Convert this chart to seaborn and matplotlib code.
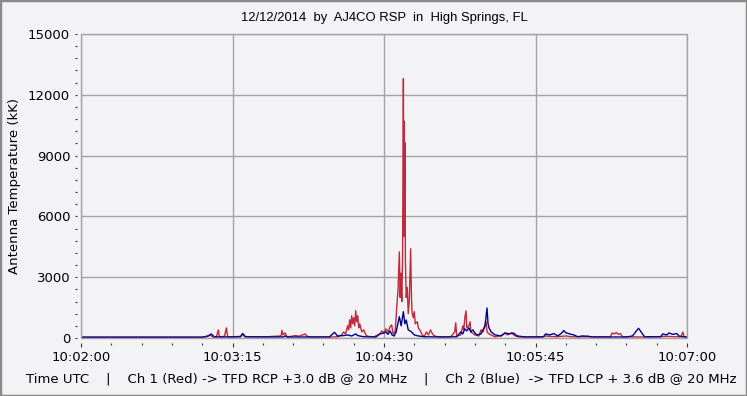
import matplotlib
matplotlib.use('Agg')
import matplotlib.pyplot as plt
import seaborn as sns
import numpy as np
from matplotlib.patches import Rectangle
from matplotlib.ticker import MultipleLocator

# seconds after 10:02:00 and antenna temperature (kK)
red_t = [0, 60, 62, 64, 65, 67, 68, 68.5, 71, 72, 72.6, 74, 79, 80, 81, 90, 99, 99.5, 100, 101, 102,
         104, 106, 108, 111, 112, 114, 124, 127, 129, 130, 131, 132, 132.5, 133, 133.5, 134, 134.5,
         135, 135.5, 136, 136.5, 137, 137.5, 138, 139, 140, 141, 142, 145, 148, 149, 150, 151, 152,
         153, 153.8, 154.5, 155.5, 156.3, 157, 157.6, 158, 158.4, 158.8, 159.2, 159.6, 159.8, 160,
         160.1, 160.3, 160.6, 161, 161.5, 162, 162.5, 163.2, 163.6, 163.9, 164.5, 165, 165.5, 166.5,
         167, 168, 169, 170, 171, 172, 173, 174, 175, 177, 183, 185, 185.5, 186, 188, 189, 189.5, 190,
         190.6, 191, 192, 192.6, 193, 195, 197, 198, 199, 200, 200.5, 201, 202, 204, 205, 208, 210,
         211, 212, 213, 215, 217, 228, 230, 232, 235, 240, 243, 250, 262, 263, 264, 265, 266, 267,
         268, 280, 290, 295, 297, 298, 298.5, 300]
red_v = [40, 40, 60, 150, 60, 50, 400, 60, 80, 500, 60, 50, 80, 200, 60, 50, 100, 380, 150, 250, 60,
         80, 120, 90, 200, 80, 50, 50, 60, 150, 300, 200, 600, 400, 900, 500, 1100, 700,
         1000, 600, 1350, 800, 1100, 500, 700, 300, 400, 150, 80, 60, 200, 350, 250, 450, 300,
         550, 650, 200, 300, 1500, 2500, 4250, 2000, 3200, 1800, 4000, 12800, 6000, 10700,
         5000, 9650, 3800, 2000, 2500, 1200, 1800, 4400, 2000, 1250, 1000, 1300, 700, 800,
         500, 350, 150, 80, 300, 150, 400, 200, 100, 50, 60, 300, 750, 100, 150, 600, 400, 1000,
         1340, 500, 600, 800, 300, 150, 100, 400, 300, 600, 800, 300, 200, 100, 60, 120, 250,
         150, 200, 250, 100, 50, 50, 100, 80, 60, 100, 60, 60, 60, 250, 200, 270, 180, 220,
         60, 50, 80, 60, 60, 300, 60, 50]

blue_t = [0, 60, 63, 64.5, 66, 70, 79, 80, 81.5, 100, 101, 102, 123, 124, 125.5, 127, 130, 132, 134,
          136, 137, 140, 146, 148, 150, 151, 152, 153, 154, 155, 156, 157.6, 158.5, 159.6, 160.3,
          161, 162, 163.5, 165, 167, 170, 180, 186, 188, 189, 190, 191, 192, 193, 194, 195, 196,
          198, 200, 201, 201.5, 202, 203, 205, 208, 210, 212, 214, 216, 220, 229, 230, 232, 234,
          236, 238, 239, 240, 242, 244, 246, 248, 251, 253, 270, 273, 276, 278, 279, 287, 288,
          290, 291, 293, 295, 296, 298, 300]
blue_v = [40, 40, 100, 200, 60, 50, 60, 220, 60, 50, 100, 50, 50, 150, 280, 100, 120, 150, 100,
          200, 120, 60, 50, 200, 250, 300, 180, 350, 150, 100, 300, 1050, 600, 1300, 700,
          890, 400, 310, 150, 100, 60, 50, 60, 300, 200, 450, 350, 500, 300, 400, 250, 150,
          200, 600, 1480, 700, 500, 300, 150, 100, 250, 200, 250, 100, 50, 60, 200, 150, 220,
          100, 250, 370, 260, 200, 150, 60, 100, 90, 50, 50, 100, 480, 200, 60, 60, 200,
          150, 250, 180, 220, 100, 60, 50]

x_ticks = [0, 75, 150, 225, 300]
x_labels = ['10:02:00', '10:03:15', '10:04:30', '10:05:45', '10:07:00']
y_ticks = [0, 3000, 6000, 9000, 12000, 15000]

bg = '#f3f3f5'
grid_c = '#a3a3a3'
plt.rcParams['font.family'] = ['DejaVu Sans']
plt.rcParams['font.size'] = 9.5

fig = plt.figure(figsize=(7.47, 3.96), dpi=100, facecolor=bg)
ax = fig.add_axes([81/747, 58/396, 606/747, 304/396])
ax.set_facecolor(bg)

sns.lineplot(x=red_t, y=red_v, ax=ax, color='#c0283c', lw=1, estimator=None, sort=False)
sns.lineplot(x=blue_t, y=blue_v, ax=ax, color='#000090', lw=1, estimator=None, sort=False)

ax.set_xlim(0, 300)
ax.set_ylim(0, 15000)
ax.set_xticks(x_ticks, x_labels)
ax.set_yticks(y_ticks)
ax.xaxis.set_minor_locator(MultipleLocator(15))
ax.yaxis.set_minor_locator(MultipleLocator(600))
ax.grid(True, which='major', color=grid_c, lw=1)
ax.set_axisbelow(True)

for s in ax.spines.values():
    s.set_visible(False)
ax.spines['bottom'].set_position(('outward', 3.5))
ax.spines['left'].set_position(('outward', 3))
ax.add_patch(Rectangle((0, 0), 1, 1, transform=ax.transAxes, fill=False,
                       ec=grid_c, lw=1, clip_on=False, zorder=5))

ax.tick_params(axis='x', which='major', length=3, width=0.8, color='#333333', pad=3, labelsize=9.5)
ax.tick_params(axis='x', which='minor', length=1.6, width=0.8, color='#333333')
ax.tick_params(axis='y', which='major', length=1.8, width=0.8, color='#333333', pad=3, labelsize=9.5)
ax.tick_params(axis='y', which='minor', length=1.8, width=0.8, color='#333333')

ax.set_xlabel('')
ax.set_ylabel('Antenna Temperature (kK)', fontsize=9.5, labelpad=5)
fig.text(0.514, 0.955, '12/12/2014  by  AJ4CO RSP  in  High Springs, FL',
         ha='center', va='center', fontsize=9.4, family=['Liberation Sans', 'DejaVu Sans'])
fig.text(0.51, 0.043, 'Time UTC    |    Ch 1 (Red) -> TFD RCP +3.0 dB @ 20 MHz    |    '
         'Ch 2 (Blue)  -> TFD LCP + 3.6 dB @ 20 MHz', ha='center', va='center', fontsize=9.5)

fig.patches.append(Rectangle((0, 0), 1, 1, transform=fig.transFigure, fill=False,
                             ec='#8a8a8a', lw=2.5))

fig.savefig('out.png', dpi=100, facecolor=bg)
